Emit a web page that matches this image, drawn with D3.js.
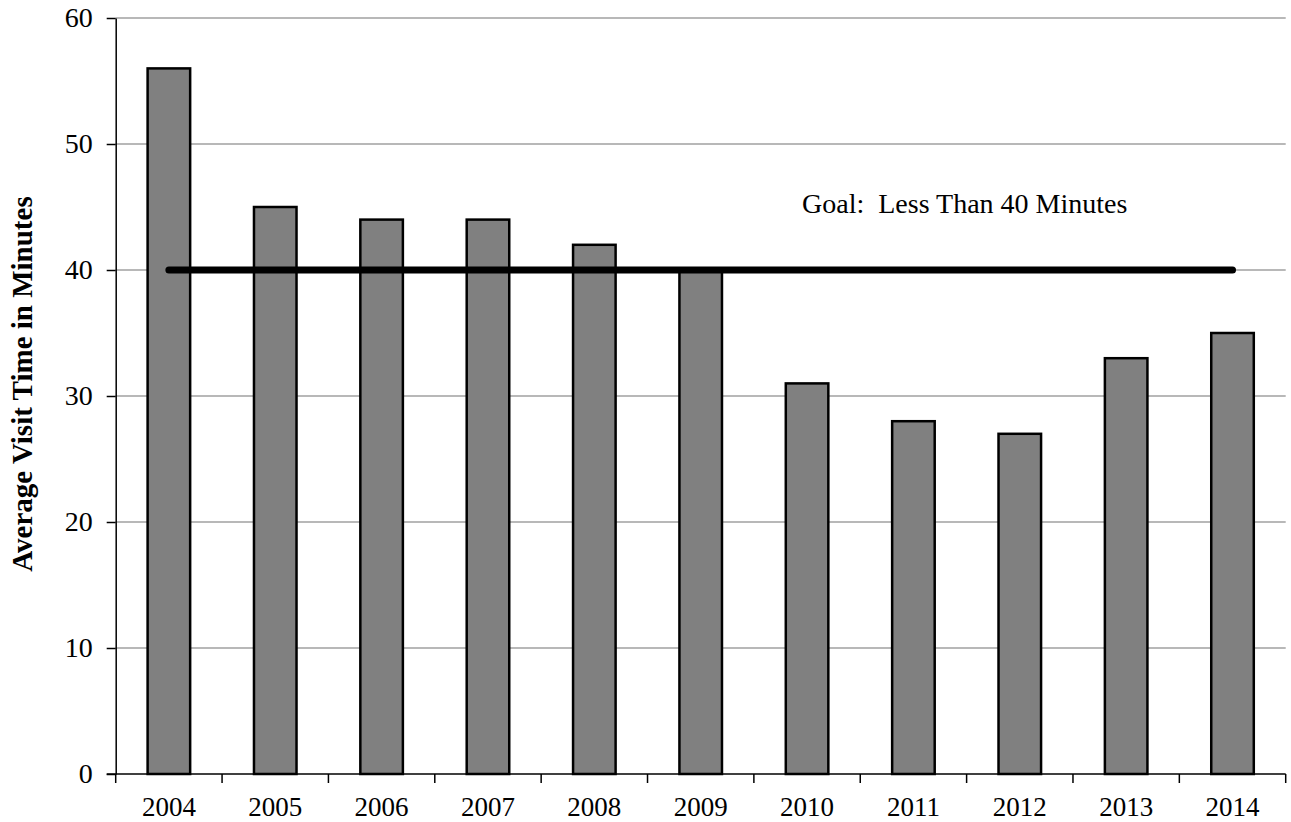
<!DOCTYPE html>
<html>
<head>
<meta charset="utf-8">
<script src="https://cdn.jsdelivr.net/npm/d3@7"></script>
<style>
  body { margin: 0; background: #fff; }
  svg { display: block; }
  text { font-family: "Liberation Serif", "Times New Roman", serif; fill: #000; }
</style>
</head>
<body>
<svg id="chart" width="1291" height="822"></svg>
<script>
// Data
const years = ["2004", "2005", "2006", "2007", "2008", "2009", "2010", "2011", "2012", "2013", "2014"];
const visitMinutes = [56, 45, 44, 44, 42, 40, 31, 28, 27, 33, 35];
const goalValue = 40;
const goalLabel = "Goal:  Less Than 40 Minutes";
const yTicks = [0, 10, 20, 30, 40, 50, 60];
const yTitle = "Average Visit Time in Minutes";

// Plot area edges
const plotLeft = 115.7, plotRight = 1285.7, plotTop = 18, plotBottom = 774;

const svg = d3.select("#chart");

const xScale = d3.scaleBand()
                 .domain(years)
                 .range([plotLeft, plotRight])
                 .paddingInner(0.6)
                 .paddingOuter(0.3);

// category width, for the tick marks between bars
const step = (plotRight - plotLeft) / years.length;

const yScale = d3.scaleLinear()
                 .domain([0, 60])
                 .range([plotBottom, plotTop]);

// Gridlines
svg.append("g")
   .selectAll("line")
   .data(yTicks.filter(d => d > 0))
   .enter()
   .append("line")
      .attr("x1", plotLeft)
      .attr("x2", plotRight)
      .attr("y1", d => yScale(d))
      .attr("y2", d => yScale(d))
      .attr("stroke", "#a0a0a0")
      .attr("stroke-width", 1.5);

// Bars
svg.append("g")
   .selectAll("rect")
   .data(years)
   .enter()
   .append("rect")
      .attr("x", d => xScale(d))
      .attr("y", (d, i) => yScale(visitMinutes[i]))
      .attr("width", xScale.bandwidth())
      .attr("height", (d, i) => plotBottom - yScale(visitMinutes[i]))
      .attr("fill", "#808080")
      .attr("stroke", "#000")
      .attr("stroke-width", 2.5);

// Goal line, centre of first bar to centre of last
const half = xScale.bandwidth() / 2;
svg.append("line")
   .attr("x1", xScale(years[0]) + half)
   .attr("x2", xScale(years[years.length - 1]) + half)
   .attr("y1", yScale(goalValue))
   .attr("y2", yScale(goalValue))
   .attr("stroke", "#000")
   .attr("stroke-width", 7)
   .attr("stroke-linecap", "round");

svg.append("text")
   .attr("x", 802)
   .attr("y", 213)
   .style("font-size", "28px")
   .style("white-space", "pre")
   .text(goalLabel);

// Y axis
const yAxis = d3.axisLeft(yScale)
                .tickValues(yTicks)
                .tickSize(9)
                .tickPadding(14)
                .tickSizeOuter(0);

const gy = svg.append("g")
              .attr("transform", "translate(" + plotLeft + ",0)")
              .call(yAxis);
gy.select(".domain").attr("stroke-width", 1.5);
gy.selectAll(".tick line").attr("stroke-width", 1.5);
gy.selectAll(".tick text")
  .style("font-size", "28px")
  .attr("fill", "#000");

// X axis - ticks sit on category boundaries
const gx = svg.append("g")
              .attr("transform", "translate(0," + plotBottom + ")");
gx.append("line")
  .attr("x1", plotLeft - 9)
  .attr("x2", plotRight)
  .attr("stroke", "#000")
  .attr("stroke-width", 1.5);
gx.selectAll(".xtick")
  .data(d3.range(years.length + 1))
  .enter()
  .append("line")
     .attr("class", "xtick")
     .attr("x1", i => plotLeft + i * step)
     .attr("x2", i => plotLeft + i * step)
     .attr("y1", 0)
     .attr("y2", 9)
     .attr("stroke", "#000")
     .attr("stroke-width", 1.5);
gx.selectAll(".xlabel")
  .data(years)
  .enter()
  .append("text")
     .attr("class", "xlabel")
     .attr("x", d => xScale(d) + half)
     .attr("y", 42)
     .attr("text-anchor", "middle")
     .style("font-size", "27px")
     .text(d => d);

// Y title
svg.append("text")
   .attr("transform", "translate(32,384) rotate(-90)")
   .attr("text-anchor", "middle")
   .style("font-size", "29px")
   .style("font-weight", "bold")
   .text(yTitle);
</script>
</body>
</html>
